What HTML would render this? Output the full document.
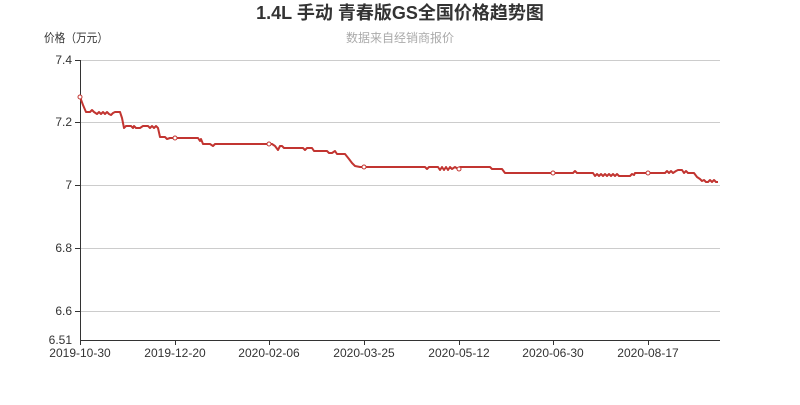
<!DOCTYPE html>
<html><head><meta charset="utf-8"><style>body{margin:0;background:#fff}svg text{font-family:"Liberation Sans","Noto Sans CJK SC",sans-serif}</style></head><body>
<svg width="800" height="400" xmlns="http://www.w3.org/2000/svg">
<text x="400" y="19" text-anchor="middle" font-size="18" font-weight="bold" fill="#333">1.4L 手动 青春版GS全国价格趋势图</text>
<text x="400" y="42" text-anchor="middle" font-size="12" fill="#aaa">数据来自经销商报价</text>
<text x="44" y="42" font-size="12" fill="#333" textLength="64" lengthAdjust="spacingAndGlyphs">价格（万元）</text>
<g stroke="#ccc" stroke-width="1">
<line x1="80" y1="60.5" x2="720" y2="60.5"/><line x1="80" y1="122.5" x2="720" y2="122.5"/><line x1="80" y1="185.5" x2="720" y2="185.5"/><line x1="80" y1="248.5" x2="720" y2="248.5"/><line x1="80" y1="311.5" x2="720" y2="311.5"/>
</g>
<g stroke="#333" stroke-width="1">
<line x1="80.5" y1="60" x2="80.5" y2="340"/><line x1="80" y1="340.5" x2="720" y2="340.5"/>
<line x1="75" y1="60.5" x2="80" y2="60.5"/><line x1="75" y1="122.5" x2="80" y2="122.5"/><line x1="75" y1="185.5" x2="80" y2="185.5"/><line x1="75" y1="248.5" x2="80" y2="248.5"/><line x1="75" y1="311.5" x2="80" y2="311.5"/>
<line x1="80.5" y1="340" x2="80.5" y2="345"/><line x1="175.5" y1="340" x2="175.5" y2="345"/><line x1="269.5" y1="340" x2="269.5" y2="345"/><line x1="364.5" y1="340" x2="364.5" y2="345"/><line x1="459.5" y1="340" x2="459.5" y2="345"/><line x1="553.5" y1="340" x2="553.5" y2="345"/><line x1="648.5" y1="340" x2="648.5" y2="345"/>
</g>
<g font-size="12" fill="#333" text-anchor="end">
<text x="72" y="64">7.4</text><text x="72" y="126">7.2</text><text x="72" y="189">7</text><text x="72" y="252">6.8</text><text x="72" y="315">6.6</text><text x="72" y="344">6.51</text>
</g>
<g font-size="12" fill="#333" text-anchor="middle">
<text x="80" y="357">2019-10-30</text><text x="175" y="357">2019-12-20</text><text x="269" y="357">2020-02-06</text><text x="364" y="357">2020-03-25</text><text x="459" y="357">2020-05-12</text><text x="553" y="357">2020-06-30</text><text x="648" y="357">2020-08-17</text>
</g>
<polyline fill="none" stroke="#c23531" stroke-width="2" stroke-linejoin="round" points="80,97 83,105 86,112 90,112 92,110 94,112 97,114 99,112 101,114 103,112 105,114 107,112 109,114 111,115 113,113 115,112 120,112 122,118 124,128 126,126 131,126 133,128 134,126 136,128 140,128 143,126 148,126 150,128 152,126 154,128 156,126 158,128 160,137 165,137 167,139 170,138 175,138 198,138 200,141 201,139 203,144 210,144 213,146 215,144 272,144 275,146 278,150 280,146 282,146 284,148 303,148 305,150 307,148 312,148 314,151 327,151 329,153 332,153 335,151 337,154 345,154 349,159 352,163 355,166 360,167 425,167 427,169 429,167 438,167 440,170 442,167 444,170 446,167 448,170 450,167 452,169 455,167 458,169 460,167 490,167 492,169 502,169 505,173 573,173 575,171 577,173 593,173 595,176 597,174 599,176 601,174 603,176 605,174 607,176 609,174 611,176 613,174 615,176 617,174 619,176 630,176 632,174 634,175 635,173 665,173 667,171 669,173 671,171 673,173 676,171 678,170 682,170 684,173 686,171 688,173 694,173 697,177 700,179 702,181 704,180 706,182 708,182 710,180 712,182 714,180 716,182 718,182"/>
<g fill="#fff" stroke="#c23531" stroke-width="1">
<circle cx="80" cy="97" r="2"/><circle cx="175" cy="138" r="2"/><circle cx="269" cy="144" r="2"/><circle cx="364" cy="167" r="2"/><circle cx="459" cy="169" r="2"/><circle cx="553" cy="173" r="2"/><circle cx="648" cy="173" r="2"/>
</g>
</svg>
</body></html>
